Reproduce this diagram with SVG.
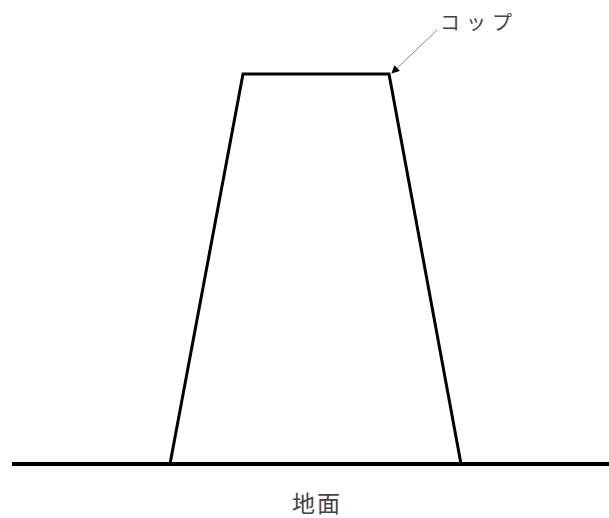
<svg xmlns="http://www.w3.org/2000/svg" width="609" height="518" viewBox="0 0 609 518">
<style>
.lbl{font-family:"Noto Sans CJK JP","Noto Sans",sans-serif;fill:#444}
</style>
<defs>
<marker id="ah" viewBox="0 0 10 10" refX="9" refY="5" markerWidth="8" markerHeight="8" markerUnits="userSpaceOnUse" orient="auto">
<path d="M0,0 L10,5 L0,10 z" fill="#000"/>
</marker>
</defs>
<rect width="609" height="518" fill="#fff"/>
<g id="ground">
<line x1="12" y1="464" x2="609" y2="464" stroke="#000" stroke-width="4"/>
<text class="lbl" x="317" y="512" font-size="23" text-anchor="middle" letter-spacing="2">地面</text>
</g>
<g id="cup">
<path d="M170,464 L243,74 L389,74 L461,464" fill="none" stroke="#000" stroke-width="3" stroke-linejoin="miter"/>
</g>
<g id="cup-label">
<text class="lbl" x="440" y="30" font-size="20" letter-spacing="6">コップ</text>
</g>
<g id="connectors">
<line x1="437" y1="30" x2="392" y2="73" stroke="#888" stroke-width="1" marker-end="url(#ah)"/>
</g>
</svg>
